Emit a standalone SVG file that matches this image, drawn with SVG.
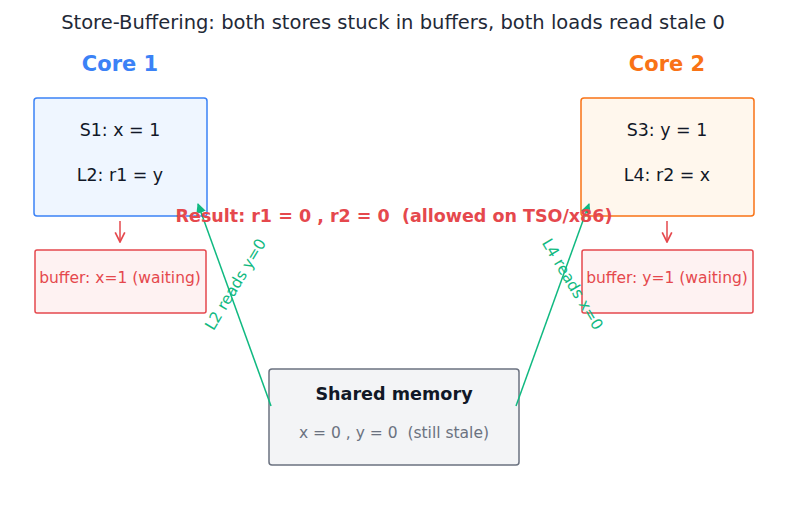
<svg xmlns="http://www.w3.org/2000/svg" width="787" height="507" viewBox="0 0 787 507">
<defs>
<style>
text{font-family:"DejaVu Sans","Liberation Sans",sans-serif;text-anchor:middle;white-space:pre}
.title{font-size:19.5px;fill:#1f2937}
.core{font-size:21px;font-weight:bold}
.op{font-size:17.4px;fill:#111827}
.buf{fill:#fef2f2;stroke:#e5484d;stroke-width:1.5}
.buft{font-size:15.5px;fill:#e5484d}
.red{stroke:#e5484d;stroke-width:1.5;fill:none}
.green{stroke:#10b981;stroke-width:1.5;fill:none}
.glab{font-size:15.5px;fill:#10b981}
</style>
<marker id="ag" viewBox="0 0 10 10" refX="9" refY="5" markerWidth="10" markerHeight="10" markerUnits="userSpaceOnUse" orient="auto">
<path d="M0,0 L10,5 L0,10 z" fill="#10b981"/>
</marker>
<marker id="ar" viewBox="0 0 10 10" refX="9" refY="5" markerWidth="12" markerHeight="12" markerUnits="userSpaceOnUse" orient="auto">
<path d="M1,1 L9,5 L1,9" fill="none" stroke="#e5484d" stroke-width="1.4"/>
</marker>
</defs>
<rect width="787" height="507" fill="#ffffff"/>
<text class="title" x="393" y="29">Store-Buffering: both stores stuck in buffers, both loads read stale 0</text>
<g id="core1">
<text class="core" x="120" y="71" fill="#3b82f6">Core 1</text>
<rect x="34" y="98" width="173" height="118" rx="3" fill="#eff6ff" stroke="#3b82f6" stroke-width="1.5"/>
<text class="op" x="120" y="136">S1: x = 1</text>
<text class="op" x="120" y="181">L2: r1 = y</text>
</g>
<g id="core2">
<text class="core" x="667" y="71" fill="#f97316">Core 2</text>
<rect x="581" y="98" width="173" height="118" rx="3" fill="#fff7ed" stroke="#f97316" stroke-width="1.5"/>
<text class="op" x="667" y="136">S3: y = 1</text>
<text class="op" x="667" y="181">L4: r2 = x</text>
</g>
<g id="buffer1">
<rect class="buf" x="35" y="250" width="171" height="63" rx="2"/>
<text class="buft" x="120" y="283">buffer: x=1 (waiting)</text>
</g>
<g id="buffer2">
<rect class="buf" x="582" y="250" width="171" height="63" rx="2"/>
<text class="buft" x="667" y="283">buffer: y=1 (waiting)</text>
</g>
<g id="memory">
<rect x="269" y="369" width="250" height="96" rx="3" fill="#f3f4f6" stroke="#6b7280" stroke-width="1.5"/>
<text x="394" y="400" style="font-size:17.6px;font-weight:bold;fill:#111827">Shared memory</text>
<text x="394" y="438" style="font-size:15.5px;fill:#6b7280">x = 0 , y = 0  (still stale)</text>
</g>
<g id="connectors">
<line class="red" x1="120" y1="221" x2="120" y2="242" marker-end="url(#ar)"/>
<line class="red" x1="667" y1="221" x2="667" y2="242" marker-end="url(#ar)"/>
<line class="green" x1="271" y1="406" x2="198" y2="204" marker-end="url(#ag)"/>
<line class="green" x1="516" y1="406" x2="589" y2="204" marker-end="url(#ag)"/>
<text class="glab" transform="translate(240,287) rotate(-59)">L2 reads y=0</text>
<text class="glab" transform="translate(568,287) rotate(59)">L4 reads x=0</text>
</g>
<text x="394" y="222" style="font-size:17.5px;font-weight:bold;fill:#e5484d">Result: r1 = 0 , r2 = 0  (allowed on TSO/x86)</text>
</svg>
